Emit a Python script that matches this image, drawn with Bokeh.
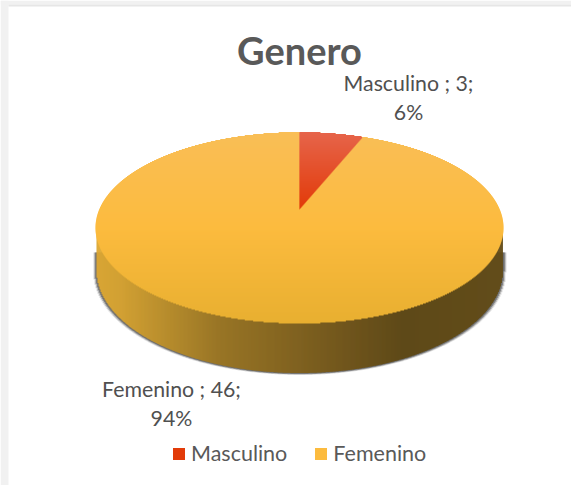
import numpy as np
from bokeh.embed import file_html
from bokeh.resources import INLINE
from bokeh.plotting import figure
from bokeh.models import Legend, LegendItem, ColumnDataSource, Label

title_text = "Genero"
categories = ["Masculino", "Femenino"]
values = [3, 46]
percents = ["6%", "94%"]

# pie projection on the page
CX, APEX_Y, TOP, BOTTOM, RX = 299.0, 208.5, 131.5, 322.5, 204.0
BASE_CY, BASE_RY, BASE_RX = 270.0, 102.5, 203.0
CY = (TOP + BOTTOM) / 2
RY = (BOTTOM - TOP) / 2
ANGLE_FORESHORTEN = 0.82


def lerp_color(stops, t):
    t = float(np.clip(t, 0, 1))
    pos = [s[0] for s in stops]
    rgb = [np.interp(t, pos, [s[1][i] for s in stops]) for i in range(3)]
    return "#%02x%02x%02x" % tuple(int(round(c)) for c in rgb)


TOP_STOPS = [(0, (249, 190, 86)), (0.5, (252, 187, 62)), (1, (232, 175, 48))]
RED_STOPS = [(0, (230, 100, 74)), (1, (226, 58, 8))]
SIDE_STOPS = [(0, (222, 168, 50)), (0.06, (215, 163, 48)), (0.3, (155, 118, 34)),
              (0.62, (112, 84, 24)), (0.75, (94, 72, 20)), (1, (98, 75, 22))]

p = figure(width=571, height=485, x_range=(0, 571), y_range=(485, 0),
           toolbar_location=None, output_backend="svg", min_border=0,
           background_fill_color="white", border_fill_color="white")
p.axis.visible = False
p.grid.visible = False
p.outline_line_color = None
p.xaxis.visible = False
p.yaxis.visible = False

# the grey surround at the left and top of the picture
p.quad(left=0, right=8, top=0, bottom=485, fill_color="#f1f1f1", line_color=None)
p.quad(left=0, right=571, top=0, bottom=4, fill_color="#f1f1f1", line_color=None)
p.quad(left=8, right=571, top=4, bottom=6, fill_color="#e6e6e6", line_color=None)

# soft shadow under the side wall
for grow, alpha in [(3.2, 0.15), (2.2, 0.3), (1.2, 0.5)]:
    rx = BASE_RX + grow
    xs = np.arange(CX - rx, CX + rx, 1.0)
    half = BASE_RY * np.sqrt(np.clip(1 - ((xs + 0.5 - CX) / rx) ** 2, 0, 1))
    p.quad(left=xs, right=xs + 1.3, top=252, bottom=BASE_CY + half + grow * 0.6,
           fill_color="#404040", fill_alpha=alpha, line_color=None)

# side wall (the first share is hidden behind the top)
sx = np.arange(CX - BASE_RX, CX + BASE_RX, 1.0)
half = BASE_RY * np.sqrt(np.clip(1 - ((sx + 0.5 - CX) / BASE_RX) ** 2, 0, 1))
side = ColumnDataSource(dict(l=sx, r=sx + 1.4, t=CY - 1 + 0 * sx, b=BASE_CY + half,
                             c=[lerp_color(SIDE_STOPS, (x - sx[0]) / (2 * BASE_RX)) for x in sx]))
p.quad(left="l", right="r", top="t", bottom="b", fill_color="c", line_color=None, source=side)

# top face, row by row, for its vertical gradient
ys = np.arange(TOP, BOTTOM, 1.0)
half = RX * np.sqrt(np.clip(1 - ((ys + 0.5 - CY) / RY) ** 2, 0, 1))
top_src = ColumnDataSource(dict(l=CX - half, r=CX + half, t=ys, b=ys + 1.4,
                                c=[lerp_color(TOP_STOPS, (y - TOP) / (BOTTOM - TOP)) for y in ys]))
femenino_r = p.quad(left="l", right="r", top="t", bottom="b", fill_color="c", line_color=None, source=top_src)

# Masculino wedge from the share of the values
phi = 2 * np.pi * values[0] / sum(values) * ANGLE_FORESHORTEN
rim_x, rim_y = CX + RX * np.sin(phi), CY - RY * np.cos(phi)
wy = np.arange(TOP, APEX_Y, 1.0)
ray = CX + (rim_x - CX) * (APEX_Y - (wy + 0.5)) / (APEX_Y - rim_y)
ell = CX + RX * np.sqrt(np.clip(1 - ((wy + 0.5 - CY) / RY) ** 2, 0, 1))
wed = ColumnDataSource(dict(l=CX + 0 * wy, r=np.minimum(ray, ell), t=wy, b=wy + 1.4,
                            c=[lerp_color(RED_STOPS, (y - TOP) / (APEX_Y - TOP)) for y in wy]))
masculino_r = p.quad(left="l", right="r", top="t", bottom="b", fill_color="c", line_color=None, source=wed)

FONT = "Lato"
p.add_layout(Label(x=299, y=49.5, text=title_text, text_font=FONT, text_font_style="bold",
                   text_font_size="38px", text_color="#595959", text_align="center", text_baseline="middle"))
LABEL = dict(text_font=FONT, text_font_size="21.3px", text_color="#505050",
             text_align="center", text_baseline="middle")
p.add_layout(Label(x=408, y=82, text=f"{categories[0]} ; {values[0]};", **LABEL))
p.add_layout(Label(x=408, y=111.5, text=percents[0], **LABEL))
p.add_layout(Label(x=171, y=388.5, text=f"{categories[1]} ; {values[1]};", **LABEL))
p.add_layout(Label(x=171, y=417.5, text=percents[1], **LABEL))

legend = Legend(items=[LegendItem(label=categories[0], renderers=[masculino_r], index=len(wy) - 1),
                       LegendItem(label=categories[1], renderers=[femenino_r], index=len(ys) // 2)],
                orientation="horizontal", location=(171, 19), background_fill_alpha=0,
                border_line_color=None, label_text_font=FONT, label_text_font_size="21.5px",
                label_text_color="#595959", glyph_width=15, glyph_height=15, spacing=26,
                label_standoff=5, margin=0, padding=0)
p.add_layout(legend, "center")

open("out.html", "w").write(file_html(p, INLINE))
